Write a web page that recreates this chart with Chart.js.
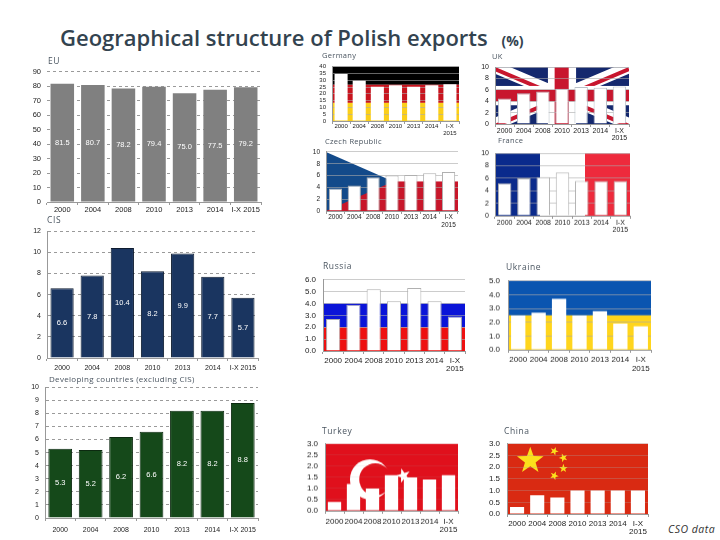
<!DOCTYPE html>
<html>
<head>
<meta charset="utf-8">
<title>Geographical structure of Polish exports</title>
<script src="https://cdn.jsdelivr.net/npm/chart.js@4"></script>
<style>
  html, body { margin: 0; padding: 0; background: #fff; }
  #page { position: relative; width: 720px; height: 540px; overflow: hidden; }
  canvas { position: absolute; }
  .t { position: absolute; white-space: nowrap; font-family: "Open Sans", sans-serif; font-size: 8.5px; color: #4a5560; letter-spacing: .6px; line-height: 10px; }
  #title { position: absolute; left: 60px; top: 21.5px; white-space: nowrap; font-family: "Open Sans", sans-serif; font-weight: 600; font-size: 22px; line-height: 30px; color: #33434f; }
  #title small { font-size: 14px; font-weight: 700; margin-left: 8px; }
  #src { position: absolute; left: 668px; top: 522px; font-family: "Open Sans", sans-serif; font-style: italic; font-size: 10.5px; color: #333; letter-spacing: .5px; }
</style>
</head>
<body>
<div id="page">
  <div id="title">Geographical structure of Polish exports <small>(%)</small></div>
  <div id="src">CSO data</div>
</div>
<script>
const years = ["2000", "2004", "2008", "2010", "2013", "2014", "I-X 2015"];
const yearsTwoLines = ["2000", "2004", "2008", "2010", "2013", "2014", ["I-X", "2015"]];

const euValues = [81.5, 80.7, 78.2, 79.4, 75.0, 77.5, 79.2];
const cisValues = [6.6, 7.8, 10.4, 8.2, 9.9, 7.7, 5.7];
const developingValues = [5.3, 5.2, 6.2, 6.6, 8.2, 8.2, 8.8];
const germanyValues = [34.6, 29.6, 25.2, 26.3, 25.2, 26.3, 27.0];
const czechValues = [3.8, 4.3, 5.7, 6.0, 6.1, 6.4, 6.6];
const ukValues = [4.5, 5.4, 5.7, 6.2, 6.5, 6.4, 6.6];
const franceValues = [5.2, 6.0, 6.2, 6.9, 5.6, 5.6, 5.6];
const russiaValues = [2.7, 3.9, 5.2, 4.2, 5.3, 4.2, 2.9];
const ukraineValues = [2.5, 2.7, 3.7, 2.5, 2.8, 1.9, 1.7];
const turkeyValues = [0.4, 1.2, 1.0, 1.6, 1.5, 1.4, 1.6];
const chinaValues = [0.3, 0.8, 0.7, 1.0, 1.0, 1.0, 1.0];

// margins of each canvas around its plot area
const LEFT = 32, TOP = 8, RIGHT = 8, BOTTOM = 26;

function rect(ctx, a, x, y, w, h, color) {
  ctx.fillStyle = color;
  ctx.fillRect(a.left + x * a.width, a.top + y * a.height, w * a.width, h * a.height);
}

function star(ctx, cx, cy, r, color, rot) {
  ctx.fillStyle = color;
  ctx.beginPath();
  for (let i = 0; i < 10; i++) {
    const rad = i % 2 ? r * 0.4 : r;
    const ang = -Math.PI / 2 + rot + i * Math.PI / 5;
    ctx.lineTo(cx + rad * Math.cos(ang), cy + rad * Math.sin(ang));
  }
  ctx.closePath();
  ctx.fill();
}

const flags = {
  germany: function (ctx, a) {
    rect(ctx, a, 0, 0, 1, 1 / 3, "#000");
    rect(ctx, a, 0, 1 / 3, 1, 1 / 3, "#c8141e");
    rect(ctx, a, 0, 2 / 3, 1, 1 / 3, "#fbcf1a");
  },
  czech: function (ctx, a) {
    rect(ctx, a, 0, 0.5, 1, 0.5, "#c8162a");
    ctx.fillStyle = "#134a8a";
    ctx.beginPath();
    ctx.moveTo(a.left, a.top);
    ctx.lineTo(a.left + a.width * 0.51, a.top + a.height / 2);
    ctx.lineTo(a.left, a.bottom);
    ctx.fill();
  },
  uk: function (ctx, a) {
    rect(ctx, a, 0, 0, 1, 1, "#14286e");
    ctx.save();
    ctx.beginPath();
    ctx.rect(a.left, a.top, a.width, a.height);
    ctx.clip();
    ctx.strokeStyle = "#fff";
    ctx.lineWidth = 12;
    ctx.beginPath();
    ctx.moveTo(a.left, a.top); ctx.lineTo(a.right, a.bottom);
    ctx.moveTo(a.right, a.top); ctx.lineTo(a.left, a.bottom);
    ctx.stroke();
    ctx.strokeStyle = "#c8162e";
    ctx.lineWidth = 4;
    ctx.beginPath();
    ctx.moveTo(a.left, a.top + 2); ctx.lineTo(a.right, a.bottom + 2);
    ctx.moveTo(a.right, a.top + 2); ctx.lineTo(a.left, a.bottom + 2);
    ctx.stroke();
    ctx.restore();
    rect(ctx, a, 0.395, 0, 0.21, 1, "#fff");
    rect(ctx, a, 0, 0.33, 1, 0.34, "#fff");
    rect(ctx, a, 0.445, 0, 0.105, 1, "#c8162e");
    rect(ctx, a, 0, 0.4, 1, 0.2, "#c8162e");
  },
  france: function (ctx, a) {
    rect(ctx, a, 0, 0, 1 / 3, 1, "#0a2a8c");
    rect(ctx, a, 2 / 3, 0, 1 / 3, 1, "#ee2a3c");
  },
  russia: function (ctx, a) {
    rect(ctx, a, 0, 1 / 3, 1, 1 / 3, "#0a14d8");
    rect(ctx, a, 0, 2 / 3, 1, 1 / 3, "#ee1010");
  },
  ukraine: function (ctx, a) {
    rect(ctx, a, 0, 0, 1, 0.5, "#0a55b0");
    rect(ctx, a, 0, 0.5, 1, 0.5, "#ffd51c");
  },
  turkey: function (ctx, a) {
    rect(ctx, a, 0, 0, 1, 1, "#e0101c");
    const cx = a.left + a.width * 0.338, cy = a.top + a.height * 0.53;
    ctx.fillStyle = "#fff";
    ctx.beginPath();
    ctx.arc(cx, cy, 20, 0, Math.PI * 2);
    ctx.fill();
    ctx.fillStyle = "#e0101c";
    ctx.beginPath();
    ctx.arc(cx + 5.3, cy, 16, 0, Math.PI * 2);
    ctx.fill();
    star(ctx, a.left + a.width * 0.59, a.top + a.height * 0.475, 7.5, "#fff", -0.3);
  },
  china: function (ctx, a) {
    rect(ctx, a, 0, 0, 1, 1, "#d92a12");
    const gold = "#fbe01c";
    star(ctx, a.left + a.width * 0.165, a.top + a.height * 0.24, 14, gold, 0);
    star(ctx, a.left + a.width * 0.335, a.top + a.height * 0.105, 4.5, gold, 0.4);
    star(ctx, a.left + a.width * 0.4, a.top + a.height * 0.2, 4.5, gold, 0.9);
    star(ctx, a.left + a.width * 0.4, a.top + a.height * 0.35, 4.5, gold, 0);
    star(ctx, a.left + a.width * 0.335, a.top + a.height * 0.455, 4.5, gold, 0.4);
  }
};

// flag goes under the grid, so beforeDraw and not afterDraw
const flagPlugin = {
  id: "flag",
  beforeDraw: function (chart, args, opts) {
    if (opts.name) flags[opts.name](chart.ctx, chart.chartArea);
  }
};

// value written in the middle of the bar (only the three big charts)
const midLabels = {
  id: "midLabels",
  afterDatasetsDraw: function (chart, args, opts) {
    if (!opts.show) return;
    const ctx = chart.ctx;
    const meta = chart.getDatasetMeta(0);
    ctx.save();
    ctx.fillStyle = "#fff";
    ctx.font = "7.5px 'Liberation Sans', sans-serif";
    ctx.textAlign = "center";
    ctx.textBaseline = "middle";
    meta.data.forEach(function (bar, i) {
      ctx.fillText(chart.data.datasets[0].data[i].toFixed(1), bar.x, (bar.y + bar.base) / 2);
    });
    ctx.restore();
  }
};

function makeChart(c) {
  const page = document.getElementById("page");
  const canvas = document.createElement("canvas");
  const w = c.x1 - c.x0 + LEFT + RIGHT, h = c.y1 - c.y0 + TOP + BOTTOM;
  canvas.style.left = (c.x0 - LEFT) + "px";
  canvas.style.top = (c.y0 - TOP) + "px";
  canvas.style.width = w + "px";
  canvas.style.height = h + "px";
  canvas.width = w;
  canvas.height = h;
  page.appendChild(canvas);

  const label = document.createElement("div");
  label.className = "t";
  label.textContent = c.title;
  label.style.left = c.tx + "px";
  label.style.top = (c.ty - 5) + "px";
  if (c.ts) {
    label.style.fontSize = c.ts + "px";
    label.style.letterSpacing = ".3px";
  }
  page.appendChild(label);

  const fontSize = c.fs || 8;
  new Chart(canvas, {
    type: "bar",
    plugins: [flagPlugin, midLabels],
    data: {
      labels: c.labels,
      datasets: [{
        data: c.values,
        backgroundColor: c.color || "#fff",
        borderColor: c.edge || "#fff",
        borderWidth: c.edge ? 1 : 0,
        borderSkipped: "bottom",
        barPercentage: c.barPct || 0.7,
        categoryPercentage: 1
      }]
    },
    options: {
      responsive: false,
      animation: false,
      layout: { autoPadding: false, padding: { top: TOP, right: RIGHT } },
      plugins: {
        legend: { display: false },
        tooltip: { enabled: false },
        flag: { name: c.flag },
        midLabels: { show: c.midLabels }
      },
      scales: {
        x: {
          afterFit: function (s) { s.height = BOTTOM; },
          grid: { drawOnChartArea: false, drawTicks: true, tickLength: 3, color: "#999" },
          border: { color: "#999" },
          ticks: {
            autoSkip: false, maxRotation: 0, minRotation: 0, padding: c.xPad,
            font: { family: "Liberation Sans", size: fontSize, lineHeight: 1.1 }, color: "#222"
          }
        },
        y: {
          min: 0,
          max: c.max,
          afterFit: function (s) { s.width = LEFT; },
          grid: { color: c.gridColor || "rgba(170,170,170,0.6)", drawTicks: false },
          border: { display: c.axisLine !== false, color: "#999", dash: c.dash || [] },
          ticks: {
            autoSkip: false, stepSize: c.step, padding: c.yPad || 6,
            font: { family: "Liberation Sans", size: fontSize }, color: "#222",
            callback: function (v) { return c.decimals ? v.toFixed(1) : v; }
          }
        }
      }
    }
  });
}

const dashGrid = "#9a9a9a";

makeChart({ title: "EU", tx: 48, ty: 61, x0: 47, x1: 261, y0: 68.5, y1: 202, labels: years, values: euValues, max: 90, step: 10, color: "#808080", midLabels: true, dash: [3, 3], gridColor: dashGrid, axisLine: false, barPct: 0.77, xPad: 1, fs: 7.5 });
makeChart({ title: "CIS", tx: 47, ty: 220, x0: 47, x1: 258, y0: 228.5, y1: 357.5, labels: years, values: cisValues, max: 12, step: 2, color: "#1a3560", edge: "#0e1c30", midLabels: true, dash: [3, 3], gridColor: dashGrid, barPct: 0.77, xPad: 3, fs: 7 });
makeChart({ title: "Developing countries  (excluding CIS)", tx: 49, ty: 379, ts: 8, x0: 45, x1: 258, y0: 384.5, y1: 518, labels: years, values: developingValues, max: 10, step: 1, color: "#15491a", edge: "#0c2a10", midLabels: true, dash: [3, 3], gridColor: dashGrid, barPct: 0.78, xPad: 5, fs: 7 });

makeChart({ title: "Germany", tx: 322, ty: 55, ts: 7.5, x0: 332, x1: 459, y0: 64.5, y1: 121, labels: yearsTwoLines, values: germanyValues, max: 40, step: 5, flag: "germany", fs: 6, xPad: -1, barPct: 0.72 });
makeChart({ title: "Czech Republic", tx: 325, ty: 141, ts: 7.5, x0: 326, x1: 458, y0: 149.5, y1: 211, labels: yearsTwoLines, values: czechValues, max: 10, step: 2, flag: "czech", edge: "#b0b0b0", fs: 6.5, xPad: 0 });
makeChart({ title: "UK", tx: 492, ty: 56, ts: 7.5, x0: 495, x1: 629, y0: 64.5, y1: 124, labels: yearsTwoLines, values: ukValues, max: 10, step: 2, flag: "uk", edge: "#b8c0c8", fs: 7, xPad: 0 });
makeChart({ title: "France", tx: 498, ty: 140, ts: 7.5, x0: 495, x1: 630, y0: 151, y1: 215.5, labels: yearsTwoLines, values: franceValues, max: 10, step: 2, flag: "france", edge: "#b0b0b0", fs: 7, xPad: 0 });
makeChart({ title: "Russia", tx: 323, ty: 266, x0: 323, x1: 465, y0: 276, y1: 351, labels: yearsTwoLines, values: russiaValues, max: 6, step: 1, decimals: true, flag: "russia", edge: "#b0b0b0", xPad: 2, yPad: 7 });
makeChart({ title: "Ukraine", tx: 506, ty: 267, x0: 508, x1: 651, y0: 276, y1: 349.5, labels: yearsTwoLines, values: ukraineValues, max: 5, step: 1, decimals: true, flag: "ukraine", xPad: 2.5, yPad: 8 });
makeChart({ title: "Turkey", tx: 322, ty: 431, x0: 325, x1: 458, y0: 440, y1: 510.5, labels: yearsTwoLines, values: turkeyValues, max: 3, step: 0.5, decimals: true, flag: "turkey", gridColor: "rgba(170,170,170,0.12)", xPad: 3, yPad: 7 });
makeChart({ title: "China", tx: 504, ty: 431, x0: 507, x1: 648, y0: 440, y1: 514, labels: yearsTwoLines, values: chinaValues, max: 3, step: 0.5, decimals: true, flag: "china", gridColor: "rgba(170,170,170,0.3)", xPad: 2, yPad: 7 });
</script>
</body>
</html>
